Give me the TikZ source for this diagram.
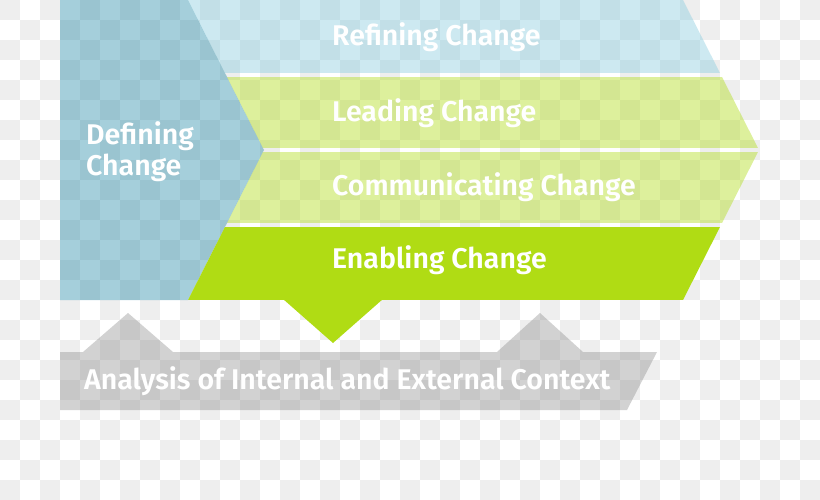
\documentclass[tikz,border=0pt]{standalone}
\usepackage{fontspec}
\setmainfont{Fira Sans}[BoldFont={Fira Sans SemiBold}]

\definecolor{chkgray}{HTML}{EEEEEE}
\definecolor{defblue}{RGB}{30,135,165}
\definecolor{refblue}{RGB}{130,202,222}
\definecolor{limegreen}{RGB}{176,220,20}
\definecolor{ctxgray}{RGB}{128,128,128}

\begin{document}
\begin{tikzpicture}[
		x=1pt, y=-1pt,
		bandtext/.style={text=white, anchor=base west, inner sep=0pt,
				font=\bfseries\fontsize{28.5}{32}\selectfont}
	]
	\useasboundingbox (0,0) rectangle (820,500);
	\clip (0,0) rectangle (820,500);
	\fill[white] (0,0) rectangle (820,500);

	% checker background
	\foreach \i in {0,40,...,800}
	\foreach \j in {0,40,...,480} {
			\fill[chkgray] (\i,\j) rectangle ++(20,20);
			\fill[chkgray] (\i+20,\j+20) rectangle ++(20,20);
		}

	% defining block
	\fill[defblue, fill opacity=0.4] (60,0) -- (188,0) -- (264,150) -- (188,300) -- (60,300) -- cycle;

	% the big arrow, cut into bands
	\begin{scope}
		\clip (188,0) -- (683,0) -- (759,150) -- (683,300) -- (188,300) -- (264,150) -- cycle;
		\fill[refblue, fill opacity=0.4] (180,0) rectangle (770,73);
		\fill[limegreen, fill opacity=0.42] (180,77) rectangle (770,148);
		\fill[limegreen, fill opacity=0.42] (180,152) rectangle (770,223);
		\fill[limegreen] (180,227) rectangle (770,300);
	\end{scope}
	\fill[limegreen] (283,299) -- (383,299) -- (333,343) -- cycle;

	% context bar
	\fill[ctxgray, fill opacity=0.35] (60,352) -- (83,352) -- (128,313) -- (173,352)
	-- (497,352) -- (540,313) -- (583,352) -- (657,352) -- (627,410) -- (60,410) -- cycle;

	\node[bandtext] (refining) at (332,46) {Refining Change};
	\node[bandtext] (leading) at (332,122) {Leading Change};
	\node[bandtext] (communicating) at (332,196) {Communicating Change};
	\node[bandtext] (enabling) at (332,268) {Enabling Change};
	\node[bandtext] (defining) at (86,145) {Defining};
	\node[bandtext] (definingb) at (86,176) {Change};
	\node[bandtext] (context) at (84,389) {Analysis of Internal and External Context};
\end{tikzpicture}
\end{document}
